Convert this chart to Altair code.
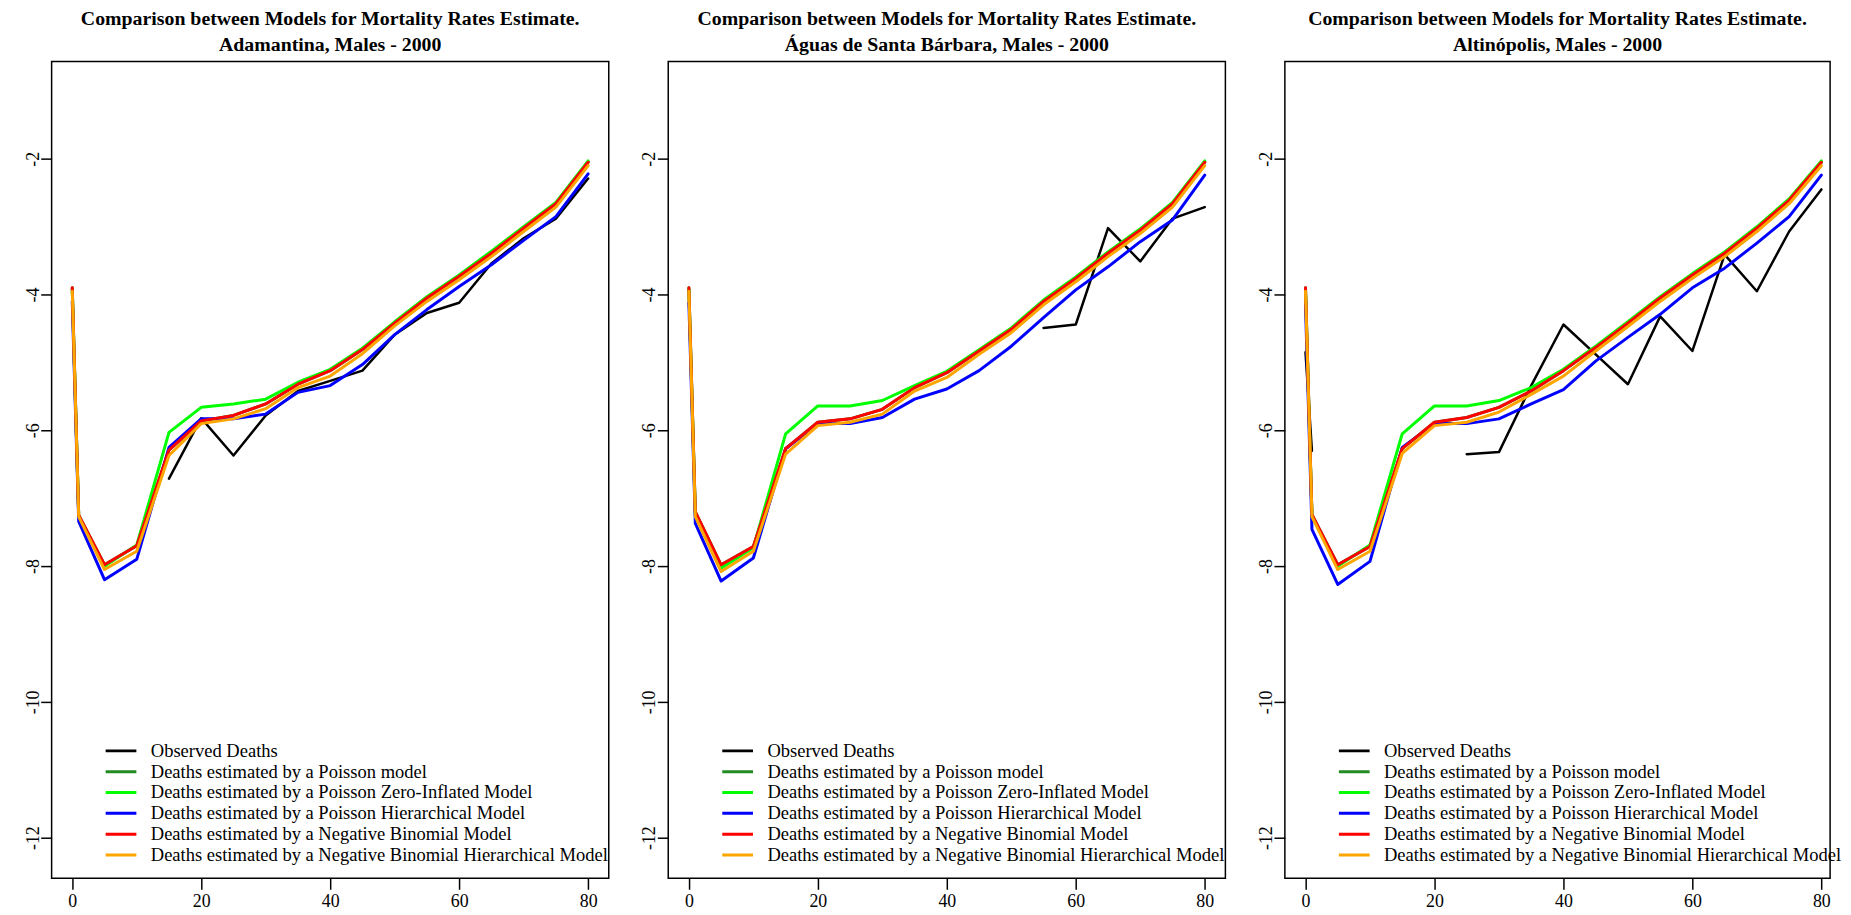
import altair as alt
import pandas as pd

# ---------------- data (log mortality rates) ----------------
ages = [0, 1, 5, 10, 15, 20, 25, 30, 35, 40, 45, 50, 55, 60, 65, 70, 75, 80]

series_names = [
    "Observed Deaths",
    "Deaths estimated by a Poisson model",
    "Deaths estimated by a Poisson Zero-Inflated Model",
    "Deaths estimated by a Poisson Hierarchical Model",
    "Deaths estimated by a Negative Binomial Model",
    "Deaths estimated by a Negative Binomial Hierarchical Model",
]
series_colors = ["#000000", "#228B22", "#00FF00", "#0000FF", "#FF0000", "#FFA500"]

main_title = "Comparison between Models for Mortality Rates Estimate."
places = ["Adamantina, Males - 2000",
          "Águas de Santa Bárbara, Males - 2000",
          "Altinópolis, Males - 2000"]

# Adamantina
ad_observed = [None, None, None, None, -6.71, -5.82, -6.37, -5.78, -5.42, -5.27,
               -5.12, -4.59, -4.27, -4.12, -3.54, -3.17, -2.88, -2.29]
ad_poisson = [-3.90, -7.25, -7.98, -7.70, -6.29, -5.86, -5.78, -5.61, -5.32, -5.12,
              -4.81, -4.42, -4.05, -3.73, -3.39, -3.02, -2.66, -2.05]
ad_zip = [-3.92, -7.26, -8.00, -7.69, -6.03, -5.66, -5.61, -5.54, -5.29, -5.10,
          -4.79, -4.40, -4.03, -3.71, -3.36, -3.00, -2.64, -2.03]
ad_ph = [-4.10, -7.34, -8.20, -7.90, -6.25, -5.83, -5.83, -5.76, -5.44, -5.34,
         -5.03, -4.59, -4.22, -3.88, -3.56, -3.20, -2.85, -2.22]
ad_nb = [-3.90, -7.25, -7.98, -7.70, -6.29, -5.86, -5.78, -5.61, -5.32, -5.12,
         -4.81, -4.42, -4.05, -3.73, -3.39, -3.02, -2.66, -2.05]
ad_nbh = [-3.95, -7.27, -8.05, -7.78, -6.37, -5.90, -5.83, -5.68, -5.37, -5.20,
          -4.87, -4.46, -4.10, -3.78, -3.44, -3.07, -2.71, -2.10]

# Águas de Santa Bárbara
ag_observed = [None, None, None, None, None, None, None, None, None, None,
               None, None, -4.49, -4.44, -3.02, -3.51, -2.88, -2.71]
ag_poisson = [-3.90, -7.20, -7.98, -7.71, -6.27, -5.88, -5.83, -5.69, -5.37, -5.15,
              -4.83, -4.51, -4.10, -3.76, -3.39, -3.05, -2.66, -2.05]
ag_zip = [-3.92, -7.25, -8.03, -7.73, -6.05, -5.64, -5.64, -5.56, -5.34, -5.13,
          -4.81, -4.49, -4.08, -3.74, -3.37, -3.03, -2.64, -2.03]
ag_ph = [-4.12, -7.37, -8.22, -7.88, -6.27, -5.90, -5.90, -5.81, -5.54, -5.39,
         -5.12, -4.76, -4.34, -3.93, -3.59, -3.22, -2.90, -2.24]
ag_nb = [-3.90, -7.20, -7.98, -7.71, -6.27, -5.88, -5.83, -5.69, -5.37, -5.15,
         -4.83, -4.51, -4.10, -3.76, -3.39, -3.05, -2.66, -2.05]
ag_nbh = [-3.95, -7.27, -8.08, -7.78, -6.35, -5.93, -5.88, -5.76, -5.42, -5.22,
          -4.88, -4.56, -4.15, -3.81, -3.44, -3.10, -2.71, -2.10]

# Altinópolis
al_observed = [-4.85, -6.30, None, None, None, None, -6.35, -6.32, -5.34, -4.44,
               -4.88, -5.32, -4.32, -4.83, -3.41, -3.95, -3.07, -2.45]
al_poisson = [-3.90, -7.24, -7.98, -7.71, -6.27, -5.88, -5.81, -5.66, -5.42, -5.12,
              -4.78, -4.42, -4.05, -3.71, -3.39, -3.02, -2.61, -2.05]
al_zip = [-3.92, -7.26, -8.00, -7.69, -6.05, -5.64, -5.64, -5.56, -5.37, -5.10,
          -4.76, -4.40, -4.03, -3.69, -3.37, -3.00, -2.59, -2.03]
al_ph = [-4.15, -7.46, -8.27, -7.93, -6.25, -5.90, -5.90, -5.83, -5.61, -5.40,
         -4.98, -4.63, -4.29, -3.90, -3.61, -3.24, -2.85, -2.24]
al_nb = [-3.90, -7.24, -7.98, -7.71, -6.27, -5.88, -5.81, -5.66, -5.42, -5.12,
         -4.78, -4.42, -4.05, -3.71, -3.39, -3.02, -2.61, -2.05]
al_nbh = [-3.95, -7.27, -8.05, -7.78, -6.34, -5.93, -5.88, -5.73, -5.47, -5.20,
          -4.83, -4.47, -4.10, -3.76, -3.44, -3.07, -2.66, -2.10]

panel_series = [
    [ad_observed, ad_poisson, ad_zip, ad_ph, ad_nb, ad_nbh],
    [ag_observed, ag_poisson, ag_zip, ag_ph, ag_nb, ag_nbh],
    [al_observed, al_poisson, al_zip, al_ph, al_nb, al_nbh],
]


def long_table(series_list):
    rows = []
    for name, vals in zip(series_names, series_list):
        run = 0
        prev_ok = False
        for a, v in zip(ages, vals):
            if v is None:
                if prev_ok:
                    run += 1
                prev_ok = False
                continue
            rows.append({"age": a, "value": v, "series": name, "seg": f"{name}#{run}"})
            prev_ok = True
    return pd.DataFrame(rows)


SERIF = "Liberation Serif"
Y_DOMAIN = [-12.6, -0.565]
PLOT_H = 824


def make_panel(idx, width, xmax):
    df = long_table(panel_series[idx])
    xaxis = alt.Axis(values=[0, 20, 40, 60, 80], title=None, grid=False, domain=False,
                     tickSize=11, tickWidth=1.5, tickColor="black",
                     labelFont=SERIF, labelFontSize=18, labelColor="black",
                     labelPadding=3, labelAngle=0, labelExpr="'' + datum.value")
    yaxis = alt.Axis(values=[-12, -10, -8, -6, -4, -2], title=None, grid=False, domain=False,
                     tickSize=11, tickWidth=1.5, tickColor="black",
                     labelFont=SERIF, labelFontSize=18, labelColor="black",
                     labelAngle=270, labelAlign="center", labelBaseline="alphabetic",
                     labelPadding=2.5, minExtent=43, maxExtent=43,
                     labelExpr="'' + datum.value")
    legend = alt.Legend(title=None, orient="none", legendX=53, legendY=685,
                        symbolType="stroke", symbolSize=961, symbolStrokeWidth=3,
                        labelFont=SERIF, labelFontSize=18.7, labelColor="black",
                        labelOffset=13, labelLimit=700, rowPadding=0, clipHeight=20.8,
                        padding=0)
    layers = []
    for k, name in enumerate(series_names):
        sub = df[df["series"] == name]
        layers.append(
            alt.Chart(sub).mark_line(
                strokeWidth=2.5 if k == 0 else 3, strokeCap="round", strokeJoin="round"
            ).encode(
                x=alt.X("age:Q", scale=alt.Scale(domain=[-3.2, xmax], nice=False, zero=False), axis=xaxis),
                y=alt.Y("value:Q", scale=alt.Scale(domain=Y_DOMAIN, nice=False, zero=False), axis=yaxis),
                color=alt.Color("series:N",
                                scale=alt.Scale(domain=series_names, range=series_colors),
                                legend=legend),
                detail="seg:N",
            )
        )
    return alt.layer(*layers).properties(
        width=width, height=PLOT_H,
        title=alt.TitleParams(text=main_title, subtitle=places[idx],
                              font=SERIF, fontSize=20, fontWeight="bold", color="black",
                              subtitleFont=SERIF, subtitleFontSize=20, subtitleFontWeight="bold",
                              subtitleColor="black", subtitlePadding=6,
                              anchor="middle", offset=7, frame="group"),
    )


p1 = make_panel(0, 562, 83.2)
p2 = make_panel(1, 562, 83.2)
p3 = make_panel(2, 550, 81.356)

chart = alt.hconcat(p1, p2, p3, spacing=15).resolve_legend(color="independent").properties(
    padding={"left": 0, "right": 0, "top": -4, "bottom": 0},
    background="white",
).configure_view(stroke="black", strokeWidth=1.5)

chart.save("out.html", embed_options={"renderer": "svg", "actions": False})
